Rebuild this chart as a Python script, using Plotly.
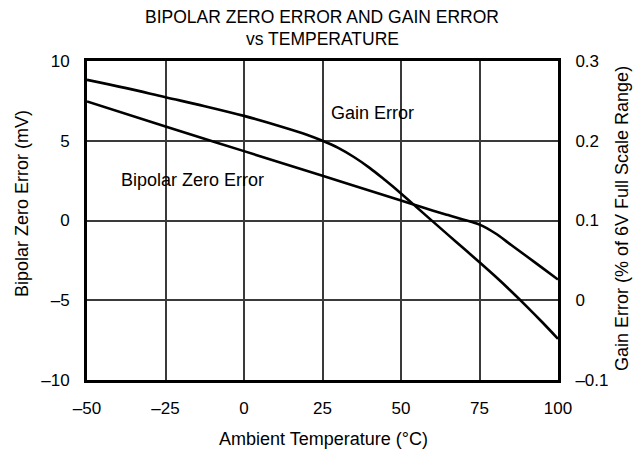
import plotly.graph_objects as go

# Data
temp_gain = [-50, -37.5, -25, -12.5, 0, 12.5, 20, 25, 30, 35, 40, 45, 50, 55, 60, 65, 70, 75, 80, 85, 90, 95, 100]
gain_error_pct = [0.2764, 0.2660, 0.2546, 0.2434, 0.2312, 0.2170, 0.2076, 0.2000, 0.1910, 0.1796,
                  0.1660, 0.1504, 0.1340, 0.1166, 0.0992, 0.0820, 0.0648, 0.0476, 0.0300, 0.0116,
                  -0.0076, -0.0276, -0.0484]

temp_bz = [-50, -25, 0, 25, 50, 55, 60, 65, 70, 75, 80, 85, 90, 95, 100]
bipolar_zero_mv = [7.46, 5.89, 4.35, 2.80, 1.25, 0.94, 0.63, 0.34, 0.05, -0.26, -0.80, -1.52, -2.24, -2.97, -3.70]

x_ticks = [-50, -25, 0, 25, 50, 75, 100]
x_ticktext = ["–50", "–25", "0", "25", "50", "75", "100"]
y_ticks = [-10, -5, 0, 5, 10]
y_ticktext = ["–10", "–5", "0", "5", "10"]
y2_ticks = [-0.1, 0, 0.1, 0.2, 0.3]
y2_ticktext = ["–0.1", "0", "0.1", "0.2", "0.3"]

FONT = "Liberation Sans, Arial, sans-serif"
FS = 17

# plot area in screen pixels (page has 8px body margin)
PL, PR, PT, PB = 87, 558, 61, 380
OFF = 8
W, H = 642 - OFF, 449 - OFF


def pxx(sx):
    return (sx - PL) / (PR - PL)


def pxy(sy):
    return (PB - sy) / (PB - PT)


def label(text, sx, sy, size=18, angle=0):
    return dict(text=text, x=pxx(sx), y=pxy(sy), xref="paper", yref="paper",
                xanchor="center", yanchor="middle", showarrow=False,
                textangle=angle, font=dict(size=size))


fig = go.Figure()
fig.add_trace(go.Scatter(x=temp_bz, y=bipolar_zero_mv, mode="lines",
                         line=dict(color="black", width=2.6, shape="spline", smoothing=1.0),
                         yaxis="y", showlegend=False))
fig.add_trace(go.Scatter(x=temp_gain, y=gain_error_pct, mode="lines",
                         line=dict(color="black", width=2.6, shape="spline", smoothing=1.0),
                         yaxis="y2", showlegend=False))

fig.update_layout(
    width=W, height=H,
    margin=dict(l=PL - OFF, r=W - (PR - OFF), t=PT - OFF, b=H - (PB - OFF), autoexpand=False),
    paper_bgcolor="white", plot_bgcolor="white",
    font=dict(family=FONT, size=FS, color="black"),
    xaxis=dict(range=[-50, 100], tickvals=x_ticks, ticktext=x_ticktext,
               showgrid=True, gridcolor="#3a3a3a", gridwidth=1.5,
               showline=True, linecolor="black", linewidth=3, mirror=True,
               ticks="outside", ticklen=11, tickcolor="rgba(0,0,0,0)",
               zeroline=False, fixedrange=True),
    yaxis=dict(range=[-10, 10], tickvals=y_ticks, ticktext=y_ticktext,
               showgrid=True, gridcolor="#3a3a3a", gridwidth=1.5,
               showline=True, linecolor="black", linewidth=3, mirror=True,
               ticks="outside", ticklen=11, tickcolor="rgba(0,0,0,0)",
               zeroline=False),
    yaxis2=dict(range=[-0.1, 0.3], tickvals=y2_ticks, ticktext=y2_ticktext,
                overlaying="y", side="right", showgrid=False, zeroline=False,
                ticks="outside", ticklen=13, tickcolor="rgba(0,0,0,0)"),
    annotations=[
        label("BIPOLAR ZERO ERROR AND GAIN ERROR", 322, 17, 17.5),
        label("vs TEMPERATURE", 322, 39, 17.5),
        label("Ambient Temperature (°C)", 323, 439),
        label("Bipolar Zero Error (mV)", 22, 204, 18, -90),
        label("Gain Error (% of 6V Full Scale Range)", 622, 219, 18, -90),
        label("Gain Error", 372, 113),
        label("Bipolar Zero Error", 192, 180),
    ],
)

fig.write_html("out.html")
